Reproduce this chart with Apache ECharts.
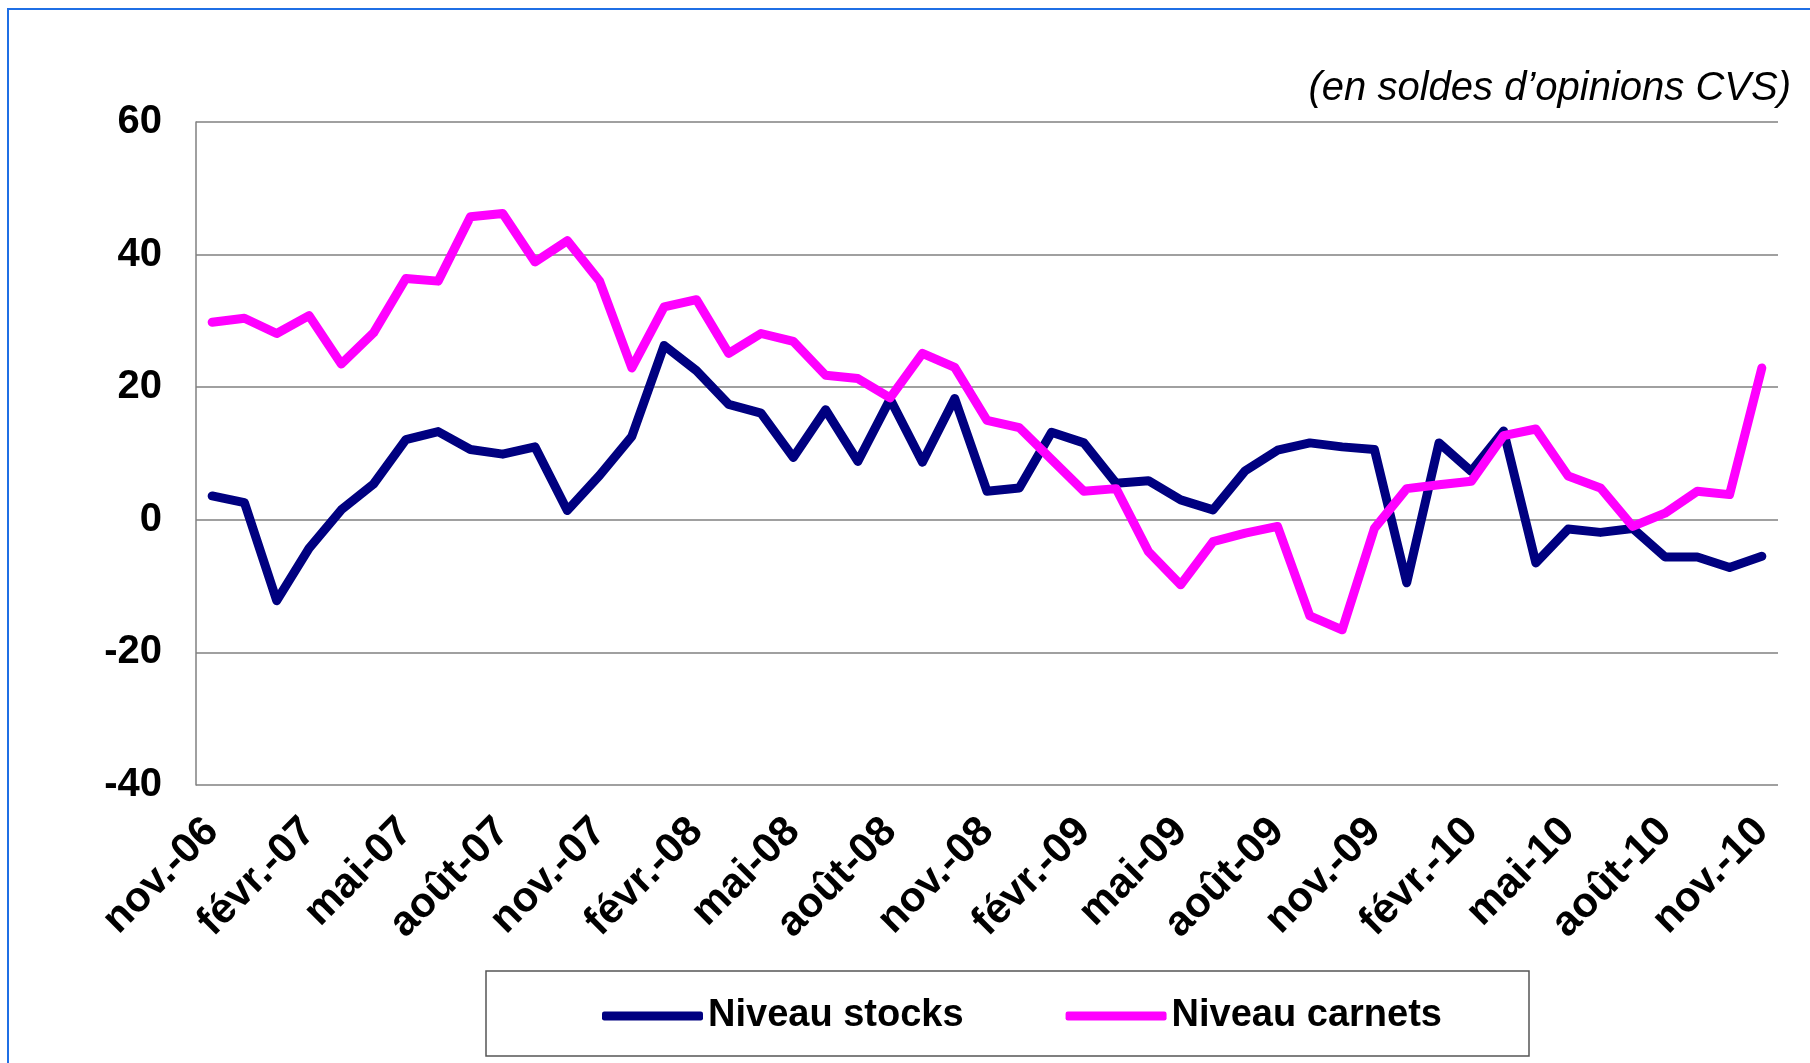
<!DOCTYPE html>
<html>
<head>
<meta charset="utf-8">
<script src="https://cdn.jsdelivr.net/npm/echarts@6/dist/echarts.min.js"></script>
<style>
html,body{margin:0;padding:0;background:#fff;}
#chart{width:1810px;height:1063px;}
</style>
</head>
<body>
<div id="chart"></div>
<script>
const categories = ["nov.-06","déc.-06","janv.-07","févr.-07","mars-07","avr.-07","mai-07","juin-07","juil.-07","août-07","sept.-07","oct.-07",
  "nov.-07","déc.-07","janv.-08","févr.-08","mars-08","avr.-08","mai-08","juin-08","juil.-08","août-08","sept.-08","oct.-08",
  "nov.-08","déc.-08","janv.-09","févr.-09","mars-09","avr.-09","mai-09","juin-09","juil.-09","août-09","sept.-09","oct.-09",
  "nov.-09","déc.-09","janv.-10","févr.-10","mars-10","avr.-10","mai-10","juin-10","juil.-10","août-10","sept.-10","oct.-10","nov.-10"];
const niveauStocks = [3.6, 2.6, -12.2, -4.3, 1.5, 5.4, 12.1, 13.3, 10.6, 9.9, 11.0, 1.4, 6.7, 12.6, 26.3, 22.5, 17.4, 16.1, 9.4, 16.6, 8.8, 18.2, 8.7, 18.3, 4.3, 4.8, 13.2, 11.6, 5.5, 5.9, 3.0, 1.5, 7.4, 10.5, 11.6, 11.0, 10.6, -9.5, 11.6, 7.3, 13.4, -6.5, -1.4, -1.9, -1.3, -5.6, -5.6, -7.2, -5.5];
const niveauCarnets = [29.8, 30.4, 28.1, 30.8, 23.5, 28.2, 36.4, 36.0, 45.7, 46.2, 38.9, 42.1, 36.0, 22.9, 32.1, 33.2, 25.1, 28.1, 26.9, 21.8, 21.3, 18.4, 25.1, 23.0, 15.0, 13.9, 9.1, 4.3, 4.7, -4.8, -9.8, -3.3, -2.0, -1.0, -14.5, -16.6, -1.3, 4.7, 5.3, 5.8, 12.7, 13.7, 6.6, 4.8, -1.0, 1.0, 4.3, 3.8, 22.9];
const seriesNames = ["Niveau stocks", "Niveau carnets"];
const subtitle = "(en soldes d\u2019opinions CVS)";

const FONT = "'Liberation Sans', Arial, sans-serif";
const chart = echarts.init(document.getElementById('chart'), null, {renderer: 'canvas'});
chart.setOption({
  animation: false,
  backgroundColor: '#ffffff',
  grid: {left: 196, right: 32, top: 122, bottom: 278, containLabel: false},
  xAxis: {
    type: 'category',
    data: categories,
    boundaryGap: true,
    axisLine: {show: false},
    axisTick: {show: false},
    axisLabel: {
      interval: 2,
      rotate: 45,
      margin: 40,
      align: 'right',
      verticalAlign: 'middle',
      fontFamily: FONT,
      fontSize: 42,
      fontWeight: 'bold',
      color: '#000'
    },
    splitLine: {show: false}
  },
  yAxis: {
    type: 'value',
    min: -40, max: 60, interval: 20,
    axisLine: {show: true, lineStyle: {color: '#808080', width: 1.5}},
    axisTick: {show: false},
    axisLabel: {margin: 34, padding: [7, 0, 0, 0], fontFamily: FONT, fontSize: 40, fontWeight: 'bold', color: '#000'},
    splitLine: {show: true, lineStyle: {color: '#808080', width: 1.5}}
  },
  legend: {
    left: 597, top: 992,
    itemWidth: 101, itemHeight: 9, itemGap: 102,
    icon: 'roundRect',
    textStyle: {fontFamily: FONT, fontSize: 38, fontWeight: 'bold', color: '#000'},
    data: seriesNames
  },
  graphic: [
    {type: 'rect', silent: true, shape: {x: 8, y: 9, width: 1830, height: 1100},
      style: {fill: 'none', stroke: '#1f6fe5', lineWidth: 2}},
    {type: 'rect', silent: true, shape: {x: 486, y: 971, width: 1043, height: 85},
      style: {fill: 'none', stroke: '#555555', lineWidth: 1.5}},
    {type: 'text', silent: true, right: 19, top: 69,
      style: {text: subtitle, fontFamily: FONT, fontSize: 40, fontStyle: 'italic', fill: '#000'}}
  ],
  series: [
    {name: seriesNames[0], type: 'line', data: niveauStocks, symbol: 'none',
      color: '#000080', lineStyle: {color: '#000080', width: 9, cap: 'round', join: 'round'}},
    {name: seriesNames[1], type: 'line', data: niveauCarnets, symbol: 'none',
      color: '#ff00ff', lineStyle: {color: '#ff00ff', width: 9, cap: 'round', join: 'round'}}
  ]
});
</script>
</body>
</html>
